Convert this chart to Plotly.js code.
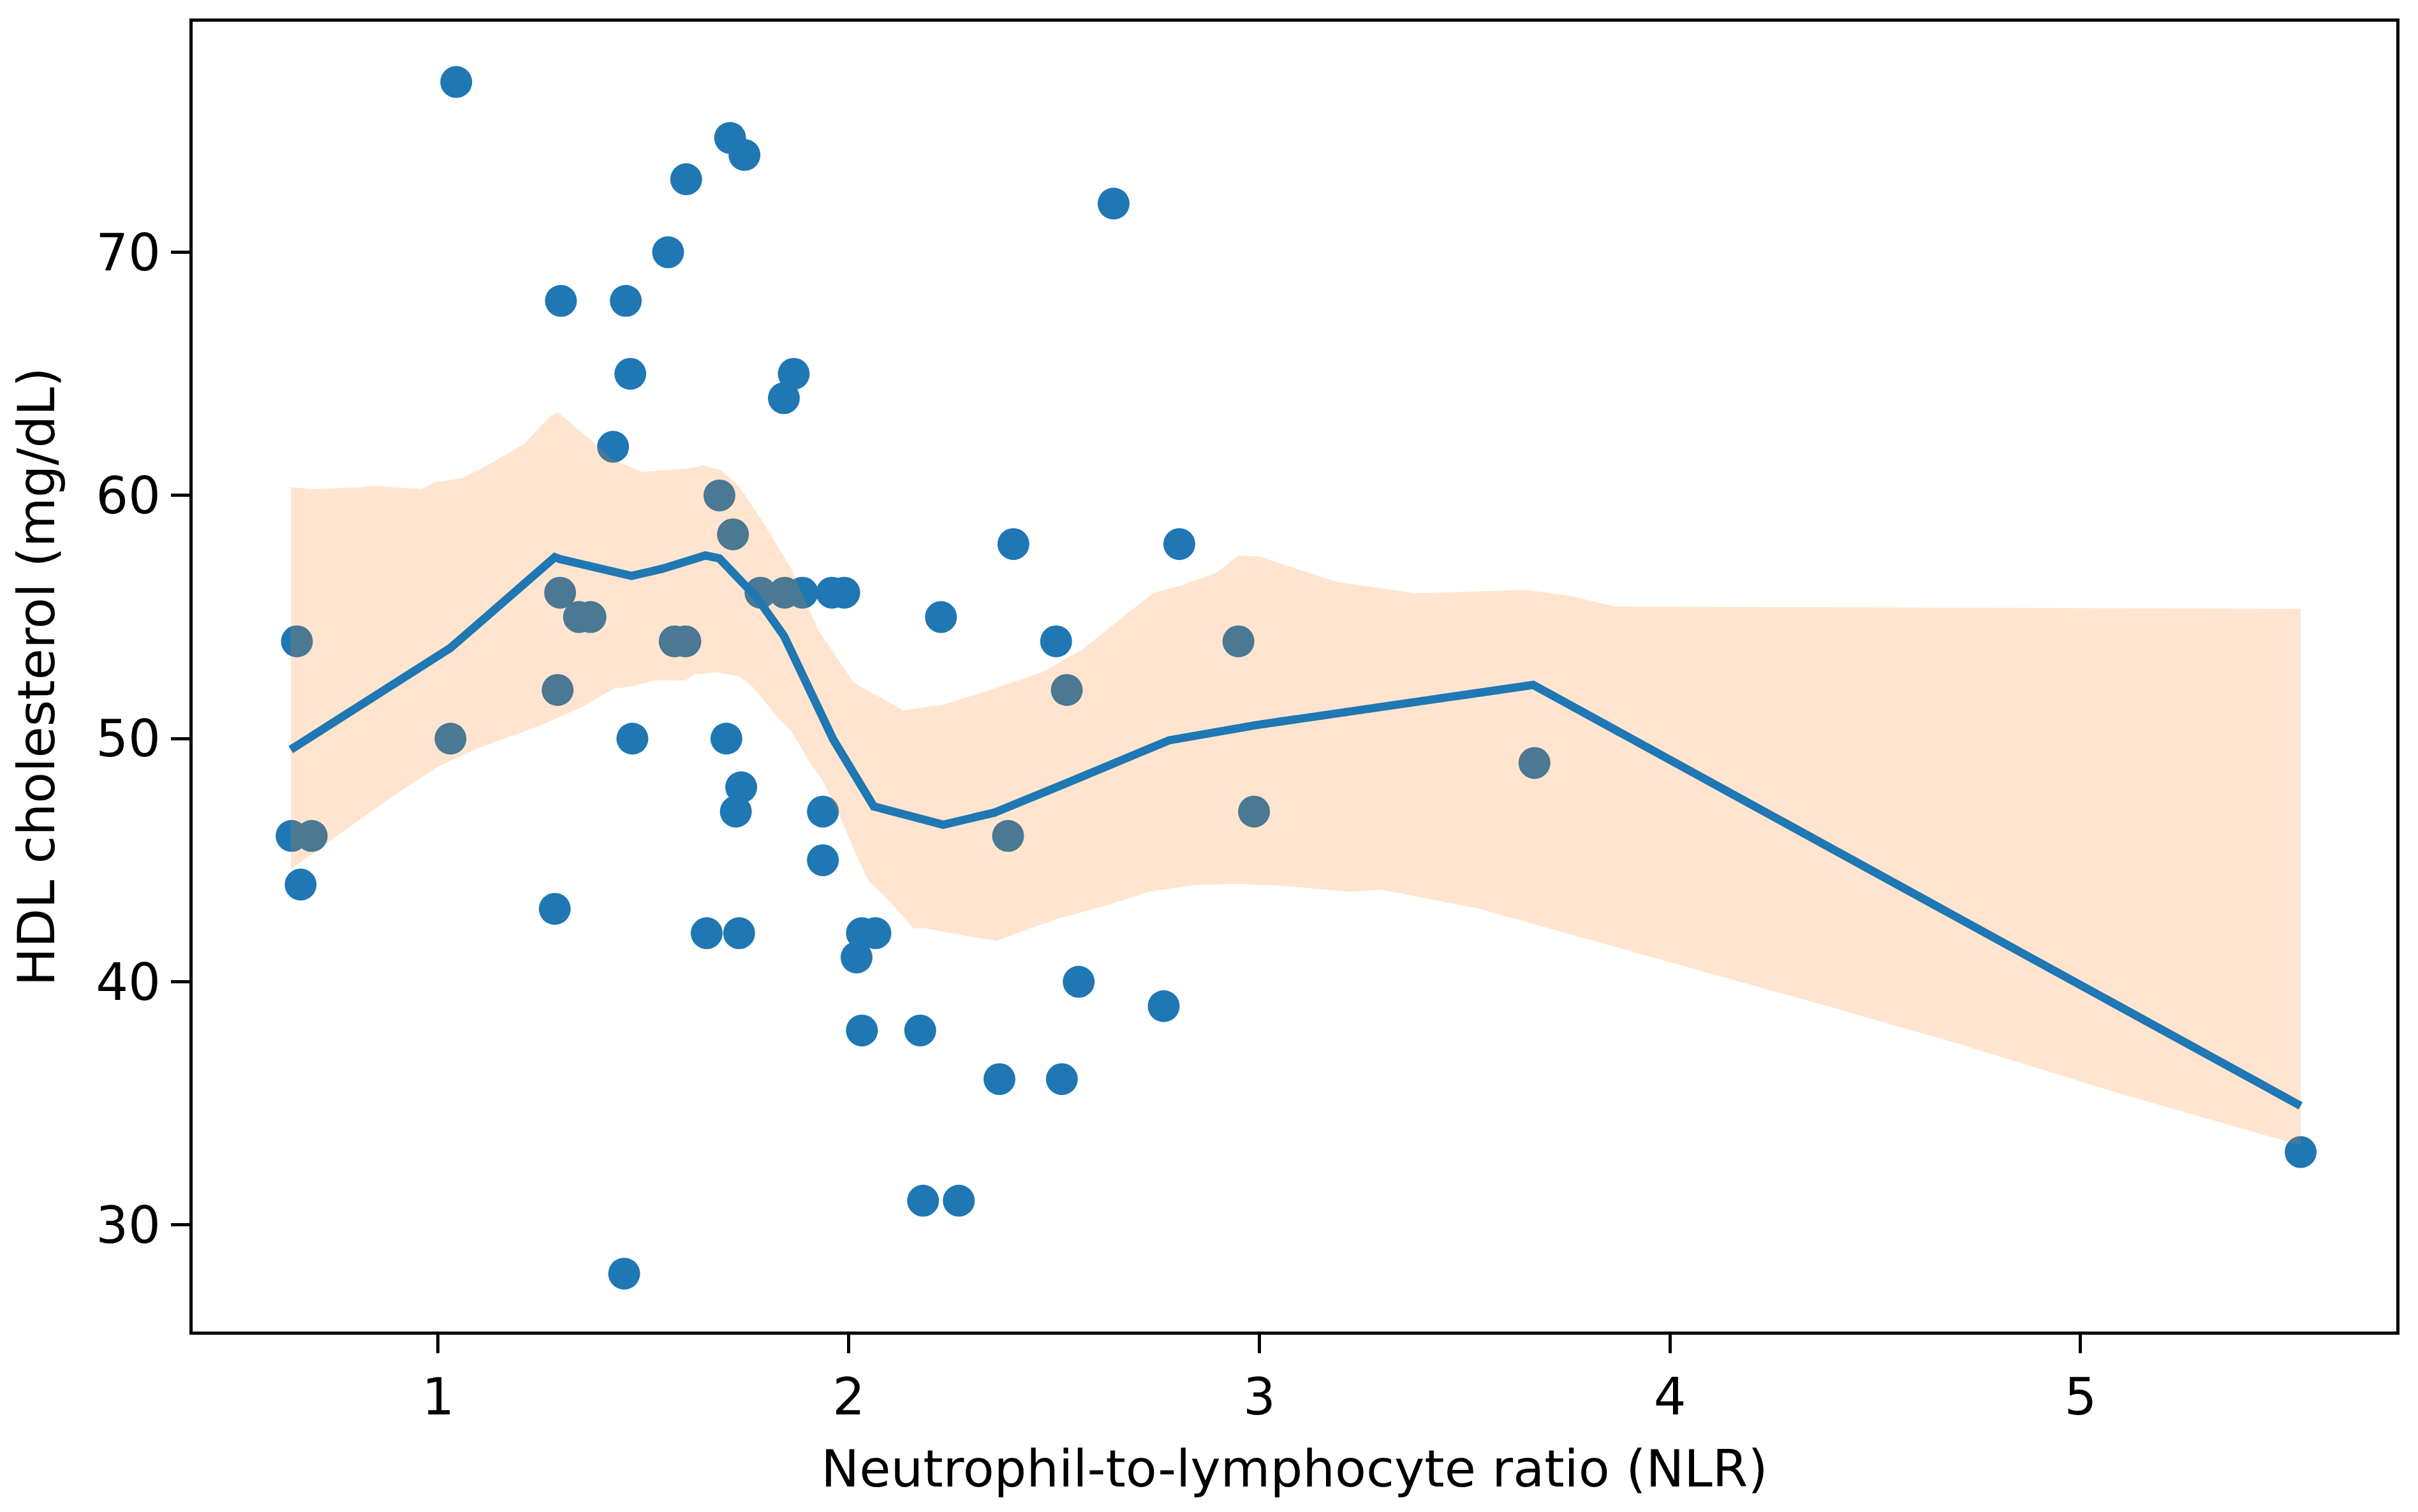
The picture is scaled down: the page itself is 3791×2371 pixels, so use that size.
<!DOCTYPE html>
<html>
<head>
<meta charset="utf-8">
<script src="https://cdn.plot.ly/plotly-3.0.1.min.js"></script>
<style>html,body{margin:0;padding:0;background:#fff;}#chart{width:3791px;height:2371px;}</style>
</head>
<body>
<div id="chart"></div>
<script>
// Scatter data: NLR vs HDL cholesterol
const nlr = [0.643,0.656,0.665,0.692,1.030,1.044,1.284,1.291,1.297,1.299,1.343,1.371,1.426,1.453,1.457,1.468,1.473,1.560,1.576,1.602,1.604,1.654,1.685,1.702,1.711,1.718,1.725,1.733,1.738,1.746,1.785,1.842,1.844,1.866,1.887,1.937,1.937,1.959,1.989,2.019,2.032,2.032,2.065,2.174,2.181,2.2245,2.268,2.367,2.388,2.401,2.505,2.519,2.531,2.560,2.645,2.767,2.805,2.949,2.987,3.670,5.536];
const hdl = [46,54,44,46,50,77,43,52,56,68,55,55,62,28,68,65,50,70,54,54,73,42,60,50,74.7,58.4,47,42,48,74,56,64,56,65,56,47,45,56,56,41,42,38,42,38,31,55,31,36,46,58,54,36,52,40,72,39,58,54,47,49,33];

// LOWESS fit line
const fitX = [0.641,1.030,1.284,1.297,1.471,1.547,1.651,1.685,1.776,1.842,1.962,2.061,2.230,2.355,2.520,2.780,2.994,3.667,5.536];
const fitY = [49.55,53.73,57.46,57.38,56.69,56.99,57.53,57.41,55.8,54.23,49.97,47.21,46.46,46.96,48.1,49.93,50.56,52.21,34.9];

// Confidence band: upper edge
const upX = [0.641,0.697,0.817,0.839,0.959,0.992,1.057,1.117,1.210,1.275,1.291,1.362,1.428,1.498,1.613,1.646,1.689,1.733,1.794,1.860,1.925,2.012,2.056,2.132,2.230,2.339,2.470,2.568,2.666,2.742,2.808,2.895,2.949,3.004,3.058,3.167,3.190,3.380,3.650,3.751,3.869,5.536];
const upY = [60.34,60.26,60.34,60.40,60.26,60.54,60.70,61.21,62.13,63.30,63.41,62.41,61.45,60.96,61.12,61.24,61.04,60.37,58.83,56.99,54.48,52.31,51.89,51.17,51.39,51.97,52.73,53.65,54.98,55.99,56.29,56.82,57.53,57.48,57.16,56.57,56.44,55.98,56.11,55.89,55.43,55.34];
// Confidence band: lower edge
const loX = [0.641,0.708,0.806,0.904,1.003,1.101,1.199,1.264,1.351,1.428,1.471,1.526,1.602,1.624,1.678,1.733,1.765,1.831,1.860,1.907,1.936,1.983,2.012,2.049,2.092,2.158,2.187,2.295,2.361,2.426,2.513,2.622,2.731,2.840,2.949,3.058,3.222,3.296,3.532,4.037,4.408,4.711,5.081,5.536];
const loY = [44.62,45.45,46.63,47.8,48.88,49.64,50.22,50.64,51.31,52.06,52.14,52.39,52.39,52.64,52.73,52.56,52.14,50.80,50.3,48.97,48.3,46.63,45.45,44.12,43.45,42.2,42.2,41.86,41.69,42.1,42.61,43.11,43.7,43.98,44.03,43.95,43.7,43.79,43.02,40.63,38.88,37.41,35.48,33.27];

const xTicks = [1,2,3,4,5];
const yTicks = [30,40,50,60,70];
const xTitle = 'Neutrophil-to-lymphocyte ratio (NLR)';
const yTitle = 'HDL cholesterol (mg/dL)';

const bandX = upX.concat(loX.slice().reverse());
const bandY = upY.concat(loY.slice().reverse());

const FONT = 'DejaVu Sans, sans-serif';

const traces = [
  {x: nlr, y: hdl, type: 'scatter', mode: 'markers',
   marker: {color: '#1f77b4', size: 50, line: {width: 0}}, showlegend: false, hoverinfo: 'skip'},
  {x: bandX, y: bandY, type: 'scatter', mode: 'lines', fill: 'toself',
   fillcolor: 'rgba(255,127,14,0.2)', line: {width: 0, color: 'rgba(0,0,0,0)'}, showlegend: false, hoverinfo: 'skip'},
  {x: fitX, y: fitY, type: 'scatter', mode: 'lines',
   line: {color: '#1f77b4', width: 13}, showlegend: false, hoverinfo: 'skip'}
];

const axisCommon = {
  showgrid: false, zeroline: false, showline: true, linecolor: '#000', linewidth: 5, mirror: true,
  ticks: 'outside', ticklen: 29, tickwidth: 5, tickcolor: '#000',
  tickfont: {family: FONT, size: 80, color: '#000'}
};

const layout = {
  width: 3791, height: 2371,
  margin: {l: 302, r: 34, t: 34, b: 283},
  paper_bgcolor: '#fff', plot_bgcolor: '#fff',
  showlegend: false,
  xaxis: Object.assign({}, axisCommon, {
    range: [0.402, 5.769], tickvals: xTicks, ticktext: xTicks.map(String),
    title: {text: xTitle, font: {family: FONT, size: 80, color: '#000'}, standoff: 40}
  }),
  yaxis: Object.assign({}, axisCommon, {
    range: [25.62, 79.48], tickvals: yTicks, ticktext: yTicks.map(String),
    title: {text: yTitle, font: {family: FONT, size: 80, color: '#000'}, standoff: 40}
  })
};

Plotly.newPlot('chart', traces, layout, {staticPlot: true, displayModeBar: false});
</script>
</body>
</html>
